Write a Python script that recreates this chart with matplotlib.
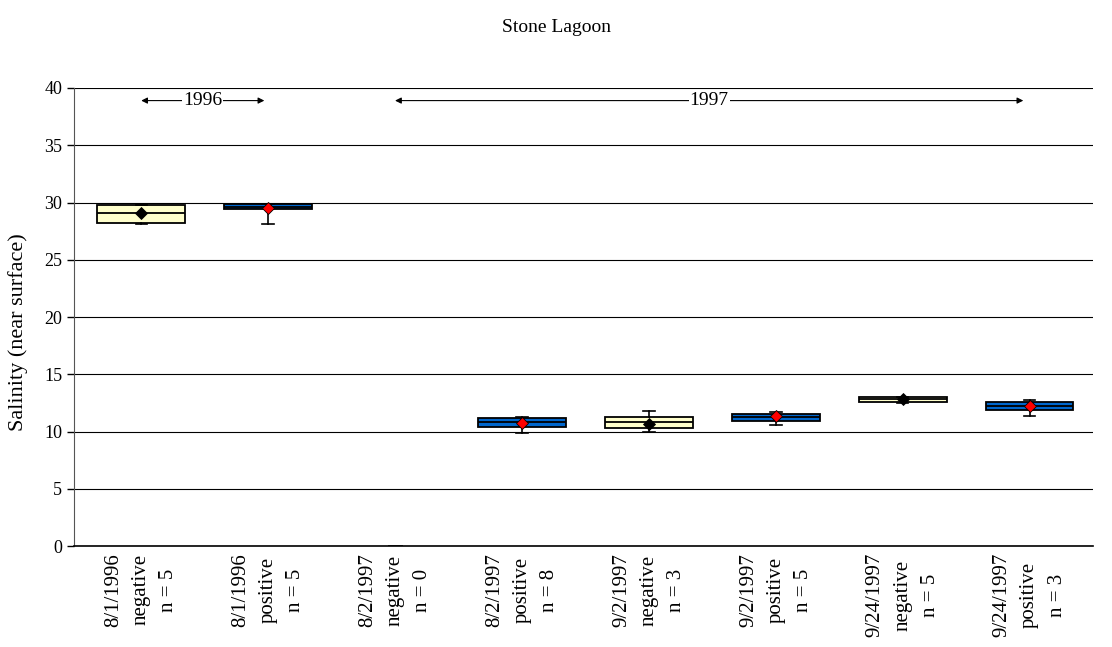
import matplotlib
matplotlib.use("Agg")
import matplotlib.pyplot as plt
import numpy as np

plt.rcParams['font.family'] = ['Liberation Serif', 'DejaVu Serif']

# ---- data ----
dates = ["8/1/1996", "8/1/1996", "8/2/1997", "8/2/1997", "9/2/1997", "9/2/1997", "9/24/1997", "9/24/1997"]
groups = ["negative", "positive", "negative", "positive", "negative", "positive", "negative", "positive"]
counts = [5, 5, 0, 8, 3, 5, 5, 3]
q1 = [28.25, 29.4, 0.0, 10.42, 10.35, 10.92, 12.6, 11.85]
medians = [29.1, 29.6, 0.0, 10.8, 10.8, 11.25, 12.8, 12.2]
q3 = [29.8, 29.85, 0.0, 11.15, 11.3, 11.5, 13.0, 12.55]
whislo = [28.1, 28.1, 0.0, 9.9, 10.0, 10.6, 12.45, 11.35]
whishi = [29.8, 29.9, 0.0, 11.25, 11.8, 11.7, 13.0, 12.75]
means = [29.1, 29.55, 0.0, 10.75, 10.7, 11.4, 12.8, 12.25]
year_labels = ["1996", "1997"]
year_spans = [(0.0, 0.97), (2.0, 6.95)]
y_ticks = [0, 5, 10, 15, 20, 25, 30, 35, 40]

fig = plt.figure(figsize=(11.12, 6.47), dpi=100)
ax = fig.add_axes([0.0665, 0.156, 0.9165, 0.708])

neg_style = dict(face="#FFFFCC", mean="black")
pos_style = dict(face="#0066CC", mean="red")

for i in range(len(dates)):
    st = dict(q1=q1[i], med=medians[i], q3=q3[i], whislo=whislo[i], whishi=whishi[i],
              mean=means[i], fliers=[])
    style = neg_style if groups[i] == "negative" else pos_style
    if counts[i] == 0:
        ax.bxp([st], positions=[i], widths=0.69, showbox=False, showmeans=False,
               showcaps=True, capwidths=[0.09],
               medianprops=dict(linewidth=0),
               whiskerprops=dict(color="#333333", linewidth=1.2),
               capprops=dict(color="#333333", linewidth=2))
        continue
    ax.bxp([st], positions=[i], widths=0.69, patch_artist=True, showmeans=True,
           capwidths=[0.09],
           boxprops=dict(facecolor=style["face"], edgecolor="black", linewidth=1.3),
           medianprops=dict(color="black", linewidth=1.3),
           whiskerprops=dict(color="black", linewidth=1.2),
           capprops=dict(color="black", linewidth=1.2),
           meanprops=dict(marker="D", markerfacecolor=style["mean"], markeredgecolor="black",
                          markeredgewidth=0.6, markersize=6.5))

ax.set_xlim(-0.53, len(dates) - 0.5)
ax.set_ylim(0, 40)
ax.set_yticks(y_ticks)
ax.tick_params(axis="y", labelsize=13, direction="out", length=5, width=1)
ax.yaxis.grid(True, color="black", linewidth=0.8)
ax.set_axisbelow(True)
ax.set_xticks(range(len(dates)))
ax.set_xticklabels([f"{d}\n{g}\nn = {n}" for d, g, n in zip(dates, groups, counts)],
                   rotation=90, fontsize=15, multialignment="center", va="top", ha="center",
                   linespacing=1.6)
ax.tick_params(axis="x", length=0, pad=5)
for s in ["top", "right"]:
    ax.spines[s].set_visible(False)
ax.spines["left"].set_color("#555555")
ax.spines["bottom"].set_color("black")
ax.spines["bottom"].set_linewidth(1.2)
fig.text(18 / 1112, 0.487, "Salinity (near surface)", rotation=90, ha="center", va="center",
         fontsize=16)

arrow_y = 38.9
for lbl, (x0, x1) in zip(year_labels, year_spans):
    ax.annotate("", xy=(x0, arrow_y), xytext=(x1, arrow_y),
                arrowprops=dict(arrowstyle="<|-|>", color="black", lw=0.8,
                                mutation_scale=9, shrinkA=0, shrinkB=0))
    ax.text((x0 + x1) / 2, arrow_y, lbl, ha="center", va="center", fontsize=14,
            bbox=dict(facecolor="white", edgecolor="none", pad=0.5))

fig.text(0.5, 0.958, "Stone Lagoon", ha="center", va="center", fontsize=14)

fig.savefig("out.png", dpi=100)
